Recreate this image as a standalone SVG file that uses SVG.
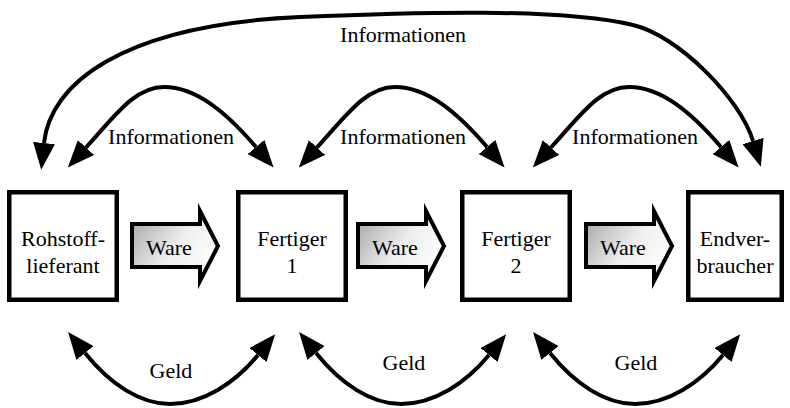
<svg xmlns="http://www.w3.org/2000/svg" width="790" height="408" viewBox="0 0 790 408">
  <defs>
    <marker id="ah" markerUnits="userSpaceOnUse" viewBox="0 0 27 22" markerWidth="27" markerHeight="22" refX="0" refY="11" orient="auto-start-reverse">
      <path d="M0,0 L27,11 L0,22 z" fill="#000"/>
    </marker>
    <linearGradient id="ware" x1="0" y1="0.1" x2="1" y2="0.7">
      <stop offset="0" stop-color="#a6a6a6"/>
      <stop offset="0.55" stop-color="#eeeeee"/>
      <stop offset="1" stop-color="#ffffff"/>
    </linearGradient>
    <style>
      .box { fill: #fff; stroke: #000; stroke-width: 4.5; }
      .ware { fill: url(#ware); stroke: #000; stroke-width: 4; stroke-linejoin: miter; stroke-miterlimit: 10; }
      text { font-family: "Liberation Serif", serif; font-size: 22px; fill: #000; }
      .con { fill: none; stroke: #000; stroke-width: 4; marker-start: url(#ah); marker-end: url(#ah); }
    </style>
  </defs>
  <rect width="790" height="408" fill="#fff"/>

  <g id="connectors">
    <path class="con" d="M44,143 C50,85 120,25 300,17 C420,12 560,8 633,25 C678,35.5 740,98 753,141"/>
    <path class="con" d="M86,147.5 C116,114.5 135,87 164,87 C196,87 226,112 256,147"/>
    <path class="con" d="M317,147.5 C347,114.5 366,87 395,87 C427,87 457,112 487,147"/>
    <path class="con" d="M551,147.5 C581,114.5 600,87 629,87 C661,87 691,112 721,147"/>
    <path class="con" d="M85,353 C110,384 140,404 170,404 C203,404 235,383 258,355"/>
    <path class="con" d="M316,353 C341,384 371,404 401,404 C434,404 466,383 489,355"/>
    <path class="con" d="M550,353 C575,384 605,404 635,404 C668,404 700,383 723,355"/>
    <text font-family="Liberation Serif" x="403" y="42" text-anchor="middle">Informationen</text>
    <text font-family="Liberation Serif" x="171" y="144" text-anchor="middle">Informationen</text>
    <text font-family="Liberation Serif" x="403" y="144" text-anchor="middle">Informationen</text>
    <text font-family="Liberation Serif" x="635" y="144" text-anchor="middle">Informationen</text>
    <text font-family="Liberation Serif" x="171" y="378" text-anchor="middle">Geld</text>
    <text font-family="Liberation Serif" x="404" y="370" text-anchor="middle">Geld</text>
    <text font-family="Liberation Serif" x="636" y="370" text-anchor="middle">Geld</text>
  </g>

  <g id="ware1">
    <polygon class="ware" points="132,224 200,224 200,211 218,246 200,281 200,267 132,267"/>
    <text font-family="Liberation Serif" x="146" y="255">Ware</text>
  </g>
  <g id="ware2">
    <polygon class="ware" points="358,224 426,224 426,211 444,246 426,281 426,267 358,267"/>
    <text font-family="Liberation Serif" x="372" y="255">Ware</text>
  </g>
  <g id="ware3">
    <polygon class="ware" points="586,224 654,224 654,211 672,246 654,281 654,267 586,267"/>
    <text font-family="Liberation Serif" x="600" y="255">Ware</text>
  </g>

  <g id="rohstofflieferant">
    <rect class="box" x="9.25" y="192.25" width="107.5" height="107.5"/>
    <text font-family="Liberation Serif" x="63" y="246" text-anchor="middle">Rohstoff-</text>
    <text font-family="Liberation Serif" x="63" y="273" text-anchor="middle">lieferant</text>
  </g>
  <g id="fertiger1">
    <rect class="box" x="238.25" y="192.25" width="107.5" height="107.5"/>
    <text font-family="Liberation Serif" x="292" y="246" text-anchor="middle">Fertiger</text>
    <text font-family="Liberation Serif" x="292" y="273" text-anchor="middle">1</text>
  </g>
  <g id="fertiger2">
    <rect class="box" x="462.25" y="192.25" width="107.5" height="107.5"/>
    <text font-family="Liberation Serif" x="516" y="246" text-anchor="middle">Fertiger</text>
    <text font-family="Liberation Serif" x="516" y="273" text-anchor="middle">2</text>
  </g>
  <g id="endverbraucher">
    <rect class="box" x="688.25" y="192.25" width="93.5" height="107.5"/>
    <text font-family="Liberation Serif" x="735" y="246" text-anchor="middle">Endver-</text>
    <text font-family="Liberation Serif" x="735" y="273" text-anchor="middle">braucher</text>
  </g>
</svg>
